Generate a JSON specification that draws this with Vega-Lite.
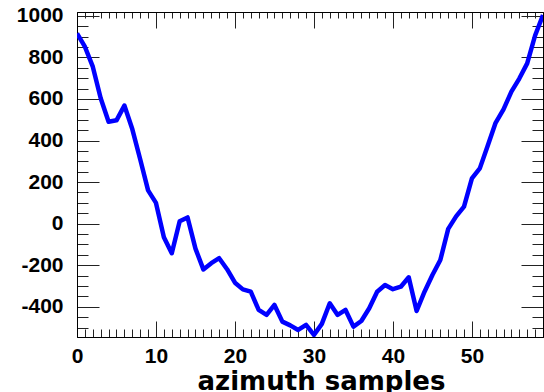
{
  "$schema": "https://vega.github.io/schema/vega-lite/v6.json",
  "width": 466,
  "height": 325,
  "autosize": {"type": "none"},
  "padding": {"left": 77, "top": 12, "right": 1, "bottom": 55},
  "background": "white",
  "config": {
    "view": {"stroke": "black", "strokeWidth": 1},
    "axis": {
      "grid": false,
      "domainColor": "black",
      "tickColor": "#222222",
      "tickWidth": 1,
      "labelFont": "Liberation Sans",
      "labelFontWeight": "bold",
      "labelFontSize": 21,
      "labelColor": "black",
      "labelFlush": false,
      "labelOverlap": false,
      "labelBound": false
    }
  },
  "data": {
    "values": [
      {"sample": 0, "value": 915}, {"sample": 1, "value": 851}, {"sample": 2, "value": 755},
      {"sample": 3, "value": 603}, {"sample": 4, "value": 490}, {"sample": 5, "value": 497},
      {"sample": 6, "value": 568}, {"sample": 7, "value": 455}, {"sample": 8, "value": 310},
      {"sample": 9, "value": 160}, {"sample": 10, "value": 100}, {"sample": 11, "value": -65},
      {"sample": 12, "value": -142}, {"sample": 13, "value": 12}, {"sample": 14, "value": 30},
      {"sample": 15, "value": -120}, {"sample": 16, "value": -220}, {"sample": 17, "value": -190},
      {"sample": 18, "value": -166}, {"sample": 19, "value": -219}, {"sample": 20, "value": -284},
      {"sample": 21, "value": -316}, {"sample": 22, "value": -327}, {"sample": 23, "value": -415},
      {"sample": 24, "value": -439}, {"sample": 25, "value": -391}, {"sample": 26, "value": -471},
      {"sample": 27, "value": -489}, {"sample": 28, "value": -511}, {"sample": 29, "value": -487},
      {"sample": 30, "value": -535}, {"sample": 31, "value": -482}, {"sample": 32, "value": -383},
      {"sample": 33, "value": -439}, {"sample": 34, "value": -415}, {"sample": 35, "value": -495},
      {"sample": 36, "value": -468}, {"sample": 37, "value": -407}, {"sample": 38, "value": -327},
      {"sample": 39, "value": -295}, {"sample": 40, "value": -315}, {"sample": 41, "value": -303},
      {"sample": 42, "value": -258}, {"sample": 43, "value": -420}, {"sample": 44, "value": -327},
      {"sample": 45, "value": -247}, {"sample": 46, "value": -175}, {"sample": 47, "value": -25},
      {"sample": 48, "value": 35}, {"sample": 49, "value": 82}, {"sample": 50, "value": 218},
      {"sample": 51, "value": 266}, {"sample": 52, "value": 375}, {"sample": 53, "value": 485},
      {"sample": 54, "value": 550}, {"sample": 55, "value": 635}, {"sample": 56, "value": 698},
      {"sample": 57, "value": 771}, {"sample": 58, "value": 905}, {"sample": 59, "value": 1003}
    ]
  },
  "layer": [
    {
      "mark": {"type": "line", "color": "#0000ff", "strokeWidth": 4.5, "strokeJoin": "round", "clip": true},
      "encoding": {
        "x": {
          "field": "sample",
          "type": "quantitative",
          "scale": {"domain": [0, 59], "nice": false, "zero": false},
          "axis": {
            "orient": "bottom",
            "values": [0,1,2,3,4,5,6,7,8,9,10,11,12,13,14,15,16,17,18,19,20,21,22,23,24,25,26,27,28,29,30,31,32,33,34,35,36,37,38,39,40,41,42,43,44,45,46,47,48,49,50,51,52,53,54,55,56,57,58,59],
            "tickSize": {"condition": {"test": "datum.value % 10 === 0", "value": -16}, "value": -8},
            "labelExpr": "datum.value % 10 === 0 ? '' + datum.value : ''",
            "labelPadding": 24,
            "title": "azimuth samples",
            "titleFont": "DejaVu Sans",
            "titleFontWeight": "bold",
            "titleFontSize": 26,
            "titleColor": "black",
            "titleBaseline": "alphabetic",
            "titleAnchor": "middle",
            "titleX": 244,
            "titleY": 52
          }
        },
        "y": {
          "field": "value",
          "type": "quantitative",
          "scale": {"domain": [-545, 1018], "nice": false, "zero": false},
          "axis": {
            "orient": "left",
            "values": [-500,-450,-400,-350,-300,-250,-200,-150,-100,-50,0,50,100,150,200,250,300,350,400,450,500,550,600,650,700,750,800,850,900,950,1000],
            "tickSize": {"condition": {"test": "datum.value % 200 === 0", "value": -22}, "value": -11},
            "labelExpr": "datum.value % 200 === 0 ? '' + datum.value : ''",
            "labelPadding": 36,
            "title": null
          }
        }
      }
    },
    {
      "mark": {"type": "point", "opacity": 0},
      "encoding": {
        "x": {
          "field": "sample",
          "type": "quantitative",
          "axis": {
            "orient": "top",
            "values": [0,1,2,3,4,5,6,7,8,9,10,11,12,13,14,15,16,17,18,19,20,21,22,23,24,25,26,27,28,29,30,31,32,33,34,35,36,37,38,39,40,41,42,43,44,45,46,47,48,49,50,51,52,53,54,55,56,57,58,59],
            "tickSize": {"condition": {"test": "datum.value % 10 === 0", "value": -16}, "value": -6},
            "labels": false,
            "title": null
          }
        },
        "y": {
          "field": "value",
          "type": "quantitative",
          "axis": {
            "orient": "right",
            "values": [-500,-450,-400,-350,-300,-250,-200,-150,-100,-50,0,50,100,150,200,250,300,350,400,450,500,550,600,650,700,750,800,850,900,950,1000],
            "tickSize": {"condition": {"test": "datum.value % 200 === 0", "value": -22}, "value": -11},
            "labels": false,
            "title": null
          }
        }
      }
    }
  ],
  "resolve": {"axis": {"x": "independent", "y": "independent"}}
}
